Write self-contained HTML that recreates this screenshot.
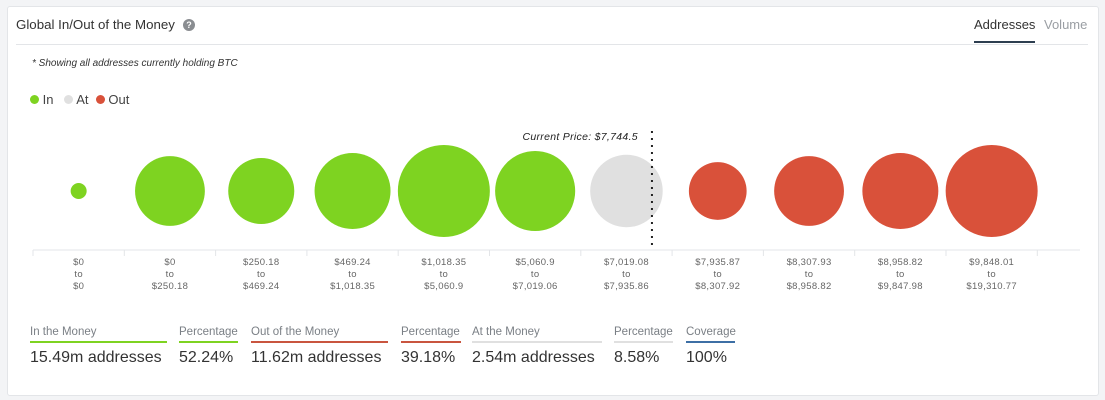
<!DOCTYPE html>
<html><head><meta charset="utf-8"><style>
body{margin:0;width:1105px;height:400px;background:#f3f4f6;font-family:"Liberation Sans",sans-serif;overflow:hidden;position:relative}
.card{position:absolute;left:7px;top:6px;width:1090px;height:388px;background:#fff;border:1px solid #e3e5e8;border-radius:3px}
.abs{position:absolute;white-space:nowrap}
.stat .l{font-size:11.5px;color:#7a7f85;padding-bottom:3px;border-bottom:2px solid}
.stat .v{font-size:16px;color:#333;margin-top:6px}
</style></head><body>
<div class="card"></div>
<div class="abs" style="left:16px;top:17px;font-size:13.3px;color:#333">Global In/Out of the Money</div>
<div class="abs" style="left:183px;top:19px;width:12px;height:12px;border-radius:50%;background:#8a8d91;color:#fff;font-size:9px;font-weight:bold;text-align:center;line-height:12px">?</div>
<div class="abs" style="left:974px;top:17px;font-size:13px;color:#333;padding-bottom:9px;border-bottom:2px solid #2d3e50">Addresses</div>
<div class="abs" style="left:1044px;top:17px;font-size:13px;color:#9a9ea3">Volume</div>
<div class="abs" style="left:16px;top:44px;width:1072px;height:1px;background:#e3e5e8"></div>
<div class="abs" style="left:32px;top:58px;font-size:10px;font-style:italic;color:#333">* Showing all addresses currently holding BTC</div>
<div class="abs" style="left:30px;top:92px;font-size:13px;color:#444">
<span><span style="display:inline-block;width:9px;height:9px;border-radius:50%;background:#7ed321"></span> In</span>&nbsp;&nbsp;
<span><span style="display:inline-block;width:9px;height:9px;border-radius:50%;background:#e0e0e0"></span> At</span>&nbsp;
<span><span style="display:inline-block;width:9px;height:9px;border-radius:50%;background:#d9513a"></span> Out</span></div>
<svg id="chart" class="abs" style="left:0;top:0" width="1105" height="400"></svg>
<div id="stats"></div>
<script>
const lows=["$0","$0","$250.18","$469.24","$1,018.35","$5,060.9","$7,019.08","$7,935.87","$8,307.93","$8,958.82","$9,848.01"];
const highs=["$0","$250.18","$469.24","$1,018.35","$5,060.9","$7,019.06","$7,935.86","$8,307.92","$8,958.82","$9,847.98","$19,310.77"];
const values=[0.1,1.9,1.7,2.25,3.3,2.5,2.05,1.3,1.9,2.25,3.3];
const kinds=["in","in","in","in","in","in","at","out","out","out","out"];
const currentPrice=7744.5;
const colors={in:"#7ed321",at:"#e0e0e0",out:"#d9513a"};
const NS="http://www.w3.org/2000/svg",svg=document.getElementById("chart");
const x0=33,step=91.3,cy=191,axisY=250,maxV=Math.max(...values),maxR=46;
const xc=i=>x0+step*(i+0.5);const rr=v=>maxR*Math.sqrt(v/maxV);
function mk(t,a){const e=document.createElementNS(NS,t);for(const k in a)e.setAttribute(k,a[k]);svg.appendChild(e);return e;}
let ax=mk("line",{x1:x0,x2:1080,y1:axisY,y2:axisY,stroke:"#e3e5e8"});


for(let i=0;i<=values.length;i++){let t=mk("line",{x1:x0+step*i,x2:x0+step*i,y1:axisY,y2:axisY+6,stroke:"#e3e5e8"});

}
values.forEach((v,i)=>{
 let c=mk("circle",{cx:xc(i),cy:cy,r:rr(v),fill:colors[kinds[i]]});
 
 
 [lows[i],"to",highs[i]].forEach((s,j)=>{let t=mk("text",{x:xc(i),y:265+j*12,"text-anchor":"middle","font-size":"9.5",fill:"#666","font-family":"Liberation Sans, sans-serif","letter-spacing":"0.3"});t.textContent=s;
 
 });
});
const ai=kinds.indexOf("at");const lo=7019.08,hi=7935.86;
const px=xc(ai)+(currentPrice-lo)/(hi-lo)*step*0.353;
let dl=mk("line",{x1:px,x2:px,y1:131,y2:247,stroke:"#222","stroke-width":2,"stroke-dasharray":"2,5"});


let ct=mk("text",{x:px-14,y:140,"text-anchor":"end","font-size":"10.5","font-style":"italic",fill:"#222","font-family":"Liberation Sans, sans-serif","letter-spacing":"0.3"});
ct.textContent="Current Price: $7,744.5";


const stats=[["In the Money","15.49m addresses",30,137,"#7ed321","in-the-money"],["Percentage","52.24%",179,59,"#7ed321","in-percentage"],["Out of the Money","11.62m addresses",251,137,"#c9553f","out-of-the-money"],["Percentage","39.18%",401,60,"#c9553f","out-percentage"],["At the Money","2.54m addresses",472,130,"#e0e0e0","at-the-money"],["Percentage","8.58%",614,59,"#e0e0e0","at-percentage"],["Coverage","100%",686,49,"#3d6fa5","coverage"]];
const sc=document.getElementById("stats");
stats.forEach(s=>{const d=document.createElement("div");d.className="abs stat";d.style.left=s[2]+"px";d.style.top="326px";


d.innerHTML='<div class="l" style="width:'+s[3]+'px;border-color:'+s[4]+'">'+s[0]+'</div><div class="v">'+s[1]+'</div>';sc.appendChild(d);});
</script>
</body></html>
